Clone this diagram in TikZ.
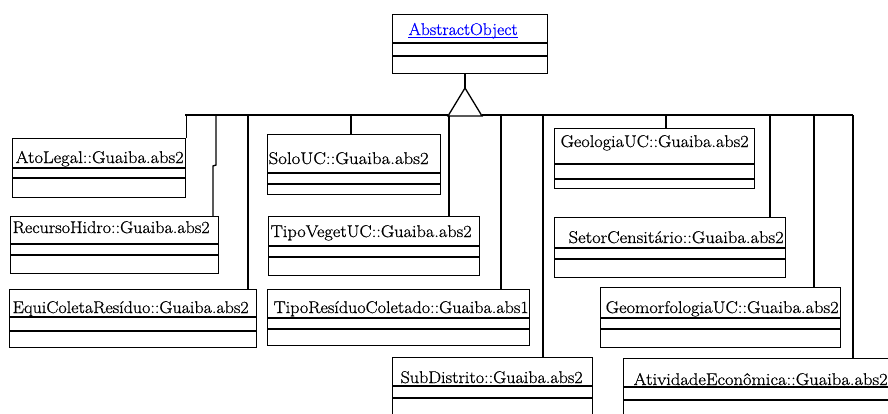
\documentclass[tikz,border=0pt]{standalone}
\usepackage{fontspec}
\setmainfont{Latin Modern Roman}
\newfontfamily\lblfont{Latin Modern Roman}[FakeBold=0.7]
\usepackage{graphicx}
\newlength\lbltw
\newcommand\fitx[2]{\settowidth\lbltw{#2}\pgfmathsetmacro\lblr{#1/\lbltw}\scalebox{\lblr}[1]{#2}}
\begin{document}
\begin{tikzpicture}[x=1pt,y=-1pt,
  line width=1.3pt,
  cls/.style={draw, rectangle, inner sep=0pt, anchor=north west, line width=1.4pt},
  lbl/.style={anchor=base west, inner sep=0pt, font=\lblfont\fontsize{17}{19}\selectfont},
  conn/.style={line width=1.3pt}]
\useasboundingbox (0,0) rectangle (888,413);
\begin{scope}
\clip (0,0) rectangle (888,413);
% class box macro: name, x1,y1,x2,y2, line1, line2, textx, baseline ; text width from \csname wd..
\newcommand\umlbox[9]{%
  \node[cls, minimum width=#4pt-#2pt, minimum height=#5pt-#3pt] (#1) at (#2,#3) {};
  \draw (#2,#6) -- (#4,#6);
  \draw (#2,#7) -- (#4,#7);
  \node[lbl] (#1-t) at (#8,#9) {\fitx{\csname wd#1\endcsname}{\csname txt#1\endcsname}};
}
\expandafter\def\csname txtabs\endcsname{\textcolor{blue}{AbstractObject}}
\expandafter\def\csname txtato\endcsname{AtoLegal::Guaiba.abs2}
\expandafter\def\csname txtrec\endcsname{RecursoHidro::Guaiba.abs2}
\expandafter\def\csname txtequ\endcsname{EquiColetaResíduo::Guaiba.abs2}
\expandafter\def\csname txtsolo\endcsname{SoloUC::Guaiba.abs2}
\expandafter\def\csname txtveg\endcsname{TipoVegetUC::Guaiba.abs2}
\expandafter\def\csname txtres\endcsname{TipoResíduoColetado::Guaiba.abs1}
\expandafter\def\csname txtsub\endcsname{SubDistrito::Guaiba.abs2}
\expandafter\def\csname txtgeo\endcsname{GeologiaUC::Guaiba.abs2}
\expandafter\def\csname txtset\endcsname{SetorCensitário::Guaiba.abs2}
\expandafter\def\csname txtgmf\endcsname{GeomorfologiaUC::Guaiba.abs2}
\expandafter\def\csname txtati\endcsname{AtividadeEconômica::Guaiba.abs2}
\expandafter\def\csname wdabs\endcsname{109}
\expandafter\def\csname wdato\endcsname{168}
\expandafter\def\csname wdrec\endcsname{197}
\expandafter\def\csname wdequ\endcsname{236}
\expandafter\def\csname wdsolo\endcsname{160}
\expandafter\def\csname wdveg\endcsname{201}
\expandafter\def\csname wdres\endcsname{255}
\expandafter\def\csname wdsub\endcsname{182}
\expandafter\def\csname wdgeo\endcsname{188}
\expandafter\def\csname wdset\endcsname{215}
\expandafter\def\csname wdgmf\endcsname{233}
\expandafter\def\csname wdati\endcsname{254}

\umlbox{abs}{392}{14}{547}{73}{43}{56}{408}{35}
\draw[blue, line width=0.9pt] (abs-t.base west |- 0,37.5) -- (abs-t.base east |- 0,37.5);

\umlbox{ato}{12}{138}{185}{197}{168}{178}{15}{163}
\umlbox{rec}{10}{216}{218}{273}{244}{255}{12}{233}
\umlbox{equ}{9}{289}{256}{347}{317}{331}{12}{313}
\umlbox{solo}{267}{134}{440}{194}{173}{184}{268}{164}
\umlbox{veg}{268}{216}{479}{275}{246}{257}{270}{237}
\umlbox{res}{267}{289}{529}{345}{318}{329}{273}{313}
\umlbox{sub}{392}{357}{592}{430}{386}{398}{400}{383}
\umlbox{geo}{554}{128}{754}{188}{164}{179}{560}{147}
\umlbox{set}{554}{217}{785}{277}{248}{259}{568}{243}
\umlbox{gmf}{600}{287}{840}{347}{318}{329}{605}{313}
\umlbox{ati}{623}{358}{895}{430}{387}{400}{633}{385}

% generalization triangle
\coordinate (apex) at (465,88);
\coordinate (busL) at (185,115);
\coordinate (busR) at (853,115);
\draw[conn] (abs.south -| apex) -- (apex);
\draw[conn, fill=white] (apex) -- (448,116) -- (482,116) -- cycle;
\draw[conn] (busL) -- (448,115);
\draw[conn] (482,115) -- (busR);

% drops
\draw[conn] (ato.north east) -- (ato.north east |- busL);
\draw[conn] (rec.north -| 213,0) -- (213,166) -- (216,165) -- (216,115);
\draw[conn] (equ.north -| 248,0) -- (248,115);
\draw[conn] (solo.north -| 351,0) -- (351,115);
\draw[conn] (veg.north -| 449,0) -- (449,116);
\draw[conn] (res.north -| 501,0) -- (501,115);
\draw[conn] (sub.north -| 543,0) -- (543,115);
\draw[conn] (geo.north -| 666,0) -- (666,115);
\draw[conn] (set.north -| 770,0) -- (770,115);
\draw[conn] (gmf.north -| 814,0) -- (814,115);
\draw[conn] (ati.north -| 853,0) -- (busR);
\end{scope}
\end{tikzpicture}
\end{document}
